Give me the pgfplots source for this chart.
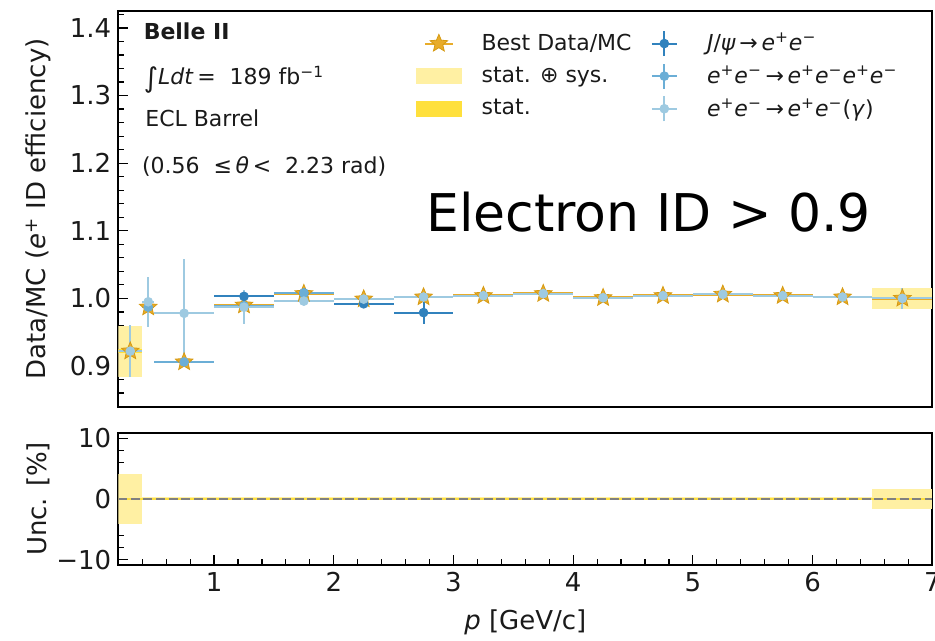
\documentclass[border=0pt]{standalone}
\usepackage{fontspec}
\setmainfont{DejaVu Sans}
\usepackage{pgfplots}
\usepackage{pgfplotstable}
\pgfplotsset{compat=1.18}

\definecolor{goldfill}{HTML}{E8AC2A}
\definecolor{goldedge}{HTML}{D69A12}
\definecolor{totband}{HTML}{FFF0A3}
\definecolor{statband}{HTML}{FFE03C}
\definecolor{bdark}{HTML}{3182BD}
\definecolor{bmid}{HTML}{6BAED6}
\definecolor{blight}{HTML}{9ECAE1}
\definecolor{txt}{HTML}{1A1A1A}

% filled five-pointed star
\pgfdeclareplotmark{fstar}{%
  \pgfpathmoveto{\pgfpointpolar{90}{\pgfplotmarksize}}%
  \pgfpathlineto{\pgfpointpolar{126}{0.45\pgfplotmarksize}}%
  \pgfpathlineto{\pgfpointpolar{162}{\pgfplotmarksize}}%
  \pgfpathlineto{\pgfpointpolar{198}{0.45\pgfplotmarksize}}%
  \pgfpathlineto{\pgfpointpolar{234}{\pgfplotmarksize}}%
  \pgfpathlineto{\pgfpointpolar{270}{0.45\pgfplotmarksize}}%
  \pgfpathlineto{\pgfpointpolar{306}{\pgfplotmarksize}}%
  \pgfpathlineto{\pgfpointpolar{342}{0.45\pgfplotmarksize}}%
  \pgfpathlineto{\pgfpointpolar{18}{\pgfplotmarksize}}%
  \pgfpathlineto{\pgfpointpolar{54}{0.45\pgfplotmarksize}}%
  \pgfpathclose
  \pgfusepathqfillstroke
}

\pgfplotstableread{
x ex y
0.30 0.10 0.922
0.45 0.05 0.987
0.75 0.25 0.906
1.25 0.25 0.990
1.75 0.25 1.007
2.25 0.25 0.999
2.75 0.25 1.002
3.25 0.25 1.004
3.75 0.25 1.007
4.25 0.25 1.001
4.75 0.25 1.004
5.25 0.25 1.006
5.75 0.25 1.004
6.25 0.25 1.002
6.75 0.25 1.000
}\best

\pgfplotstableread{
x ex y ey
1.25 0.25 1.003 0.003
1.75 0.25 1.008 0.003
2.25 0.25 0.992 0.003
2.75 0.25 0.979 0.017
}\jpsi

\pgfplotstableread{
x ex y ey
0.45 0.05 0.987 0.004
0.75 0.25 0.906 0.004
1.25 0.25 0.989 0.003
1.75 0.25 1.008 0.002
}\eeee

\pgfplotstableread{
x ex y ey
0.30 0.10 0.922 0.038
0.45 0.05 0.995 0.037
0.75 0.25 0.978 0.080
1.25 0.25 0.987 0.025
1.75 0.25 0.996 0.004
2.25 0.25 0.999 0.003
2.75 0.25 1.002 0.003
3.25 0.25 1.004 0.002
3.75 0.25 1.007 0.002
4.25 0.25 1.001 0.002
4.75 0.25 1.004 0.002
5.25 0.25 1.006 0.002
5.75 0.25 1.004 0.002
6.25 0.25 1.002 0.002
6.75 0.25 1.000 0.015
}\eeg

\pgfplotsset{
  /pgf/number format/assume math mode=true,
  panel/.style={
    scale only axis, width=407pt,
    xmin=0.2, xmax=7,
    tick align=inside,
    axis line style={line width=1pt, black},
    major tick length=5pt, minor tick length=3pt,
    every tick/.style={black, line width=0.6pt},
    ytick pos=left, xtick pos=bottom,
    tick label style={font=\fontsize{13}{15}\selectfont, text=txt},
    label style={font=\fontsize{13}{15}\selectfont, text=txt},
    ylabel style={at={(axis description cs:-0.098,0.5)}, anchor=center},
  },
  errs/.style={only marks, mark=*, mark size=2.2pt, #1,
    error bars/.cd, x dir=both, x explicit, y dir=both, y explicit,
    error mark=none, error bar style={line width=1pt, #1}},
  box/.style={fill=#1, draw=none},
  starleg/.style={legend image code/.code={%
    \path[draw=none, fill=none] (0cm,-0.2cm) rectangle (1.08cm,0.2cm);
    \draw[goldfill, line width=1pt] (0.16cm,0cm) -- (0.64cm,0cm);
    \draw[mark=fstar, mark size=4.6pt, mark options={fill=goldfill, draw=goldedge, line width=0.4pt}] plot coordinates {(0.4cm,0cm)};}},
  bandleg/.style={legend image code/.code={%
    \path[draw=none, fill=none] (0cm,-0.2cm) rectangle (1.08cm,0.2cm);
    \fill[#1, draw=none] (0cm,-0.14cm) rectangle (0.8cm,0.14cm);}},
  crossleg/.style={legend image code/.code={%
    \path[draw=none, fill=none] (0cm,-0.2cm) rectangle (1.08cm,0.2cm);
    \draw[#1, line width=1pt] (0.18cm,0cm) -- (0.62cm,0cm) (0.4cm,-0.22cm) -- (0.4cm,0.22cm);
    \fill[#1] (0.4cm,0cm) circle (2.2pt);}},
}

\begin{document}
\begin{tikzpicture}
\begin{axis}[panel, at={(0,0)}, anchor=north west, height=197.8pt,
  ymin=0.84, ymax=1.425,
  xtick=\empty,
  ytick={0.9,1.0,1.1,1.2,1.3,1.4},
  minor ytick={0.86,0.88,0.92,0.94,0.96,0.98,1.02,1.04,1.06,1.08,1.12,1.14,1.16,1.18,1.22,1.24,1.26,1.28,1.32,1.34,1.36,1.38,1.42},
  yticklabel style={/pgf/number format/.cd, fixed, fixed zerofill, precision=1},
  ylabel={Data/MC (\textit{e}\textsuperscript{+} ID efficiency)},
  legend columns=2,
  legend cell align=left,
  legend style={draw=none, fill=none, at={(rel axis cs:0.358,0.965)}, anchor=north west,
    font=\fontsize{11}{13}\selectfont, text=txt, row sep=2pt,
    /tikz/every even column/.append style={column sep=3pt}},
]
% stat (+) sys and stat bands of the outer bins
\addplot[box=totband, forget plot] coordinates {(0.2,0.884) (0.4,0.884) (0.4,0.959) (0.2,0.959)} -- cycle;
\addplot[box=totband, forget plot] coordinates {(6.5,0.984) (7,0.984) (7,1.016) (6.5,1.016)} -- cycle;
\addplot[box=statband, forget plot] coordinates {(0.2,0.919) (0.4,0.919) (0.4,0.925) (0.2,0.925)} -- cycle;
\addplot[box=statband, forget plot] coordinates {(6.5,0.998) (7,0.998) (7,1.002) (6.5,1.002)} -- cycle;

\addplot[forget plot, only marks, mark=fstar, mark size=4.6pt,
  mark options={fill=goldfill, draw=goldedge, line width=0.4pt},
  error bars/.cd, x dir=both, x explicit, error mark=none,
  error bar style={line width=1.3pt, goldfill}]
  table[x=x, y=y, x error=ex]{\best};
\addplot[forget plot, errs=bdark] table[x=x, y=y, x error=ex, y error=ey]{\jpsi};
\addplot[forget plot, errs=bmid] table[x=x, y=y, x error=ex, y error=ey]{\eeee};
\addplot[forget plot, errs=blight] table[x=x, y=y, x error=ex, y error=ey]{\eeg};

\node[anchor=base west, font=\fontsize{11}{13}\selectfont\bfseries, text=txt] at (rel axis cs:0.0226,0.929) {Belle II};
\node[anchor=base west, font=\fontsize{11}{13}\selectfont, text=txt] at (rel axis cs:0.0226,0.813) {\raisebox{-0.25ex}{\scalebox{1.25}{∫}}\textit{Ldt}\,= \ 189 fb\textsuperscript{−1}};
\node[anchor=base west, font=\fontsize{11}{13}\selectfont, text=txt] at (rel axis cs:0.0246,0.709) {ECL Barrel};
\node[anchor=base west, font=\fontsize{11}{13}\selectfont, text=txt] at (rel axis cs:0.0205,0.590) {(0.56 \ ≤\,\textit{θ}\,< \ 2.23 rad)};
\node[anchor=base west, inner xsep=0pt, font=\fontsize{26}{30}\selectfont, text=black] at (rel axis cs:0.378,0.4415) {Electron ID > 0.9};

\addlegendimage{starleg}
\addlegendentry{Best Data/MC}
\addlegendimage{crossleg=bdark}
\addlegendentry{\textit{J}/\textit{ψ}\,→\,\textit{e}\textsuperscript{+}\textit{e}\textsuperscript{−}}
\addlegendimage{bandleg=totband}
\addlegendentry{stat. ⊕ sys.}
\addlegendimage{crossleg=bmid}
\addlegendentry{\textit{e}\textsuperscript{+}\textit{e}\textsuperscript{−}\,→\,\textit{e}\textsuperscript{+}\textit{e}\textsuperscript{−}\textit{e}\textsuperscript{+}\textit{e}\textsuperscript{−}}
\addlegendimage{bandleg=statband}
\addlegendentry{stat.}
\addlegendimage{crossleg=blight}
\addlegendentry{\textit{e}\textsuperscript{+}\textit{e}\textsuperscript{−}\,→\,\textit{e}\textsuperscript{+}\textit{e}\textsuperscript{−}(\textit{γ})}
\end{axis}

\begin{axis}[panel, at={(0,-210.85pt)}, anchor=north west, height=66.2pt,
  ymin=-10.9, ymax=10.9,
  xtick={1,2,3,4,5,6,7},
  minor xtick={0.4,0.6,0.8,1.2,1.4,1.6,1.8,2.2,2.4,2.6,2.8,3.2,3.4,3.6,3.8,4.2,4.4,4.6,4.8,5.2,5.4,5.6,5.8,6.2,6.4,6.6,6.8},
  ytick={-10,0,10}, yticklabels={−10,0,10},
  minor ytick={-8,-6,-4,-2,2,4,6,8},
  ylabel={Unc. [\%]},
  xlabel={\textit{p} [GeV/c]},
  xlabel style={yshift=-2pt},
]
\addplot[box=totband] coordinates {(0.2,-4.1) (0.4,-4.1) (0.4,4.1) (0.2,4.1)} -- cycle;
\addplot[box=totband] coordinates {(0.4,-0.25) (6.5,-0.25) (6.5,0.25) (0.4,0.25)} -- cycle;
\addplot[box=totband] coordinates {(6.5,-1.6) (7,-1.6) (7,1.6) (6.5,1.6)} -- cycle;
\addplot[box=statband] coordinates {(0.2,-0.15) (7,-0.15) (7,0.15) (0.2,0.15)} -- cycle;
\addplot[gray, line width=1pt, dash pattern=on 4.5pt off 1.8pt] coordinates {(0.2,0) (7,0)};
\end{axis}

\pgfresetboundingbox
\path[use as bounding box] (-59.15pt,5.5pt) rectangle (408.35pt,-315pt);
\end{tikzpicture}
\end{document}
